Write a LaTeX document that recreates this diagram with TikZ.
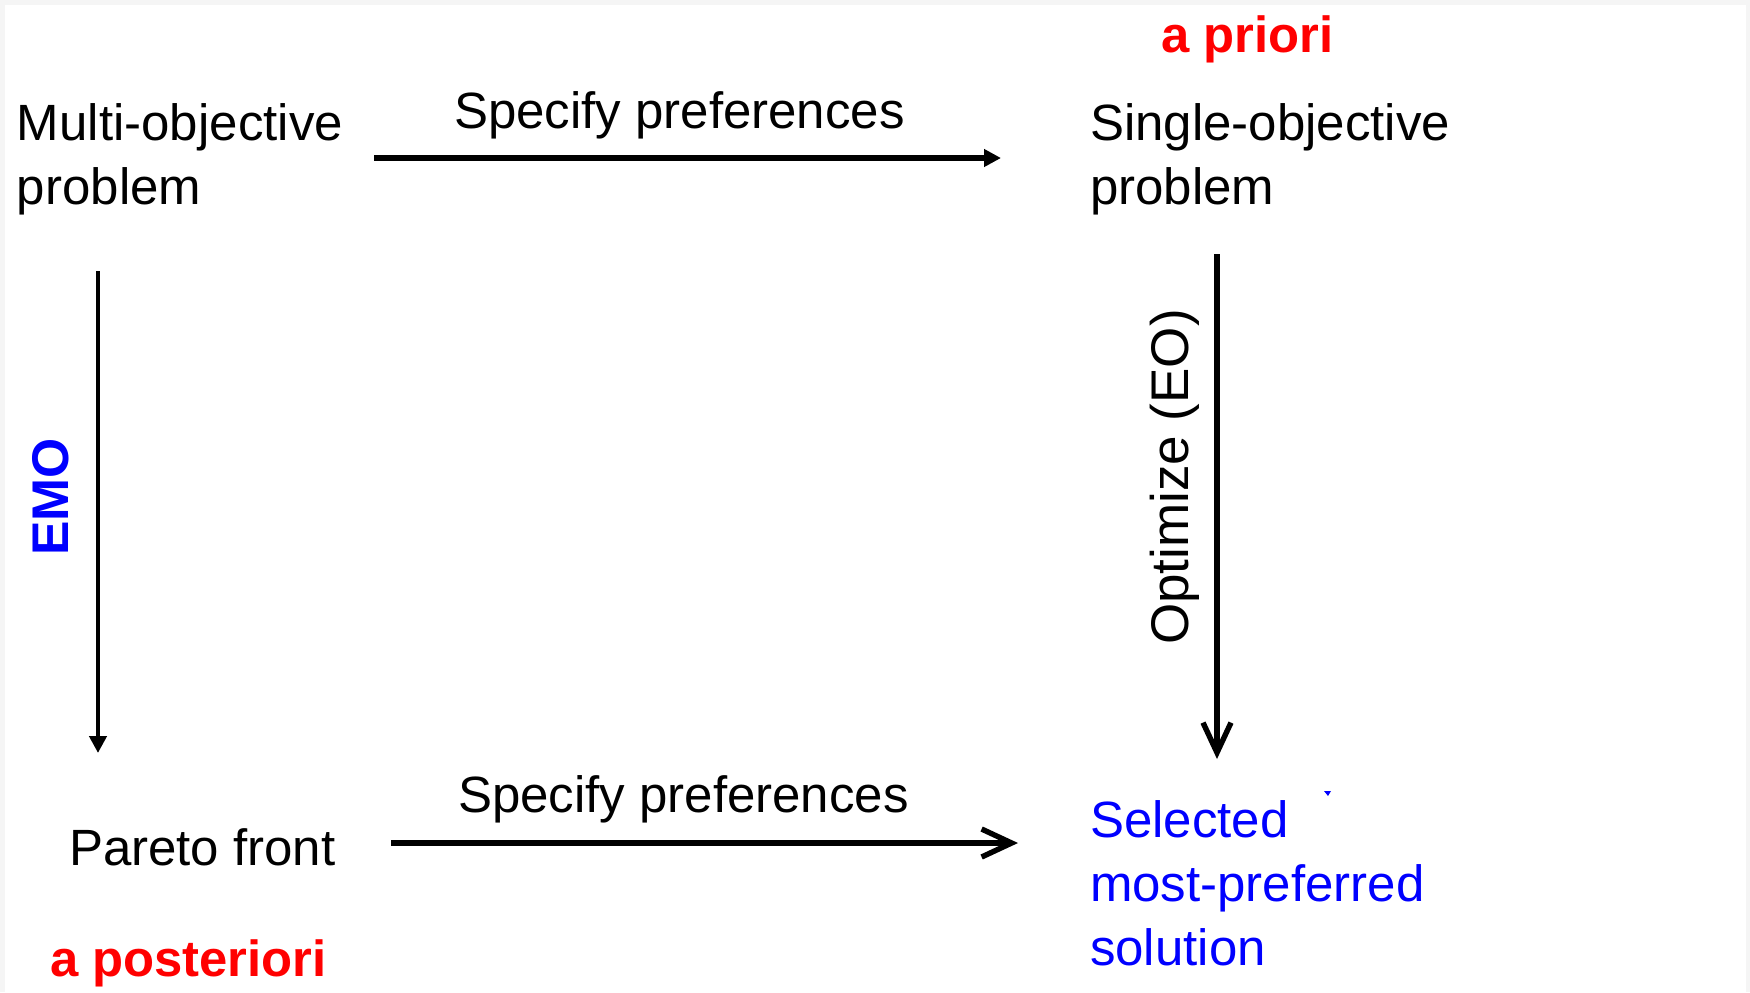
\documentclass[tikz,border=0pt]{standalone}
\usepackage{fontspec}
\setmainfont{Liberation Sans}
\usetikzlibrary{arrows.meta}
\definecolor{framegray}{HTML}{F5F5F5}
\definecolor{pureblue}{RGB}{0,0,255}
\definecolor{purered}{RGB}{255,0,0}
\begin{document}
\begin{tikzpicture}[x=0.5pt,y=-0.5pt,
  lbl/.style={inner sep=0pt, outer sep=0pt, align=left, anchor=base west,
              font=\fontsize{25.5}{32}\selectfont},
  tag/.style={inner sep=0pt, outer sep=0pt, anchor=base west, text=purered,
              font=\fontsize{25.4}{30}\selectfont\bfseries},
  link/.style={line width=2.7pt},
  solid head/.style={-{Triangle[length=8.5pt,width=8.5pt]}},
  barb head/.style={-{Straight Barb[length=15pt,width=14pt]}}]
  % canvas with a thin grey margin on the top, left and right
  \useasboundingbox (0,0) rectangle (1750,992);
  \fill[framegray] (0,0) rectangle (1750,992);
  \fill[white] (5,5) rectangle (1746,992);

  % corner texts (multi-line nodes sit on the baseline of their last line)
  \node[lbl] (mop) at (17,204) {Multi-objective\\problem};
  \node[lbl] (sop) at (1090,204) {Single-objective\\problem};
  \node[lbl] (pf)  at (69,865) {Pareto front};
  \node[lbl, text=pureblue] (sol) at (1090,965)
       {Selected\\most-preferred\\solution};

  % edge labels
  \node[lbl] (sp1) at (454,128) {Specify preferences};
  \node[lbl] (sp2) at (458,812) {Specify preferences};
  \node[inner sep=0pt, rotate=90, anchor=base, text=pureblue,
        font=\fontsize{25.8}{30}\selectfont\bfseries] (emo) at (68,497) {EMO};
  \node[inner sep=0pt, rotate=90, anchor=base,
        font=\fontsize{26.5}{30}\selectfont] (opt) at (1188,477) {Optimize (EO)};

  % approach names
  \node[tag] (apri)  at (1161,52) {a priori};
  \node[tag] (apost) at (50,976) {a posteriori};

  % connector end points
  \coordinate (topS) at (374,158);  \coordinate (topE) at (1001,158);
  \coordinate (lftS) at (98,271);   \coordinate (lftE) at (98,753);
  \coordinate (rgtS) at (1217,254); \coordinate (rgtE) at (1217,759);
  \coordinate (botS) at (391,843);  \coordinate (botE) at (1018,843);

  \draw[link, solid head] (topS) -- (topE);
  \draw[link, line width=2.3pt, solid head] (lftS) -- (lftE);
  \draw[link, barb head] (rgtS) -- (rgtE);
  \draw[link, barb head] (botS) -- (botE);

  % small stray blue mark beside "Selected"
  \fill[pureblue] (1324,791) -- (1331,791) -- (1328,796) -- cycle;
\end{tikzpicture}
\end{document}
